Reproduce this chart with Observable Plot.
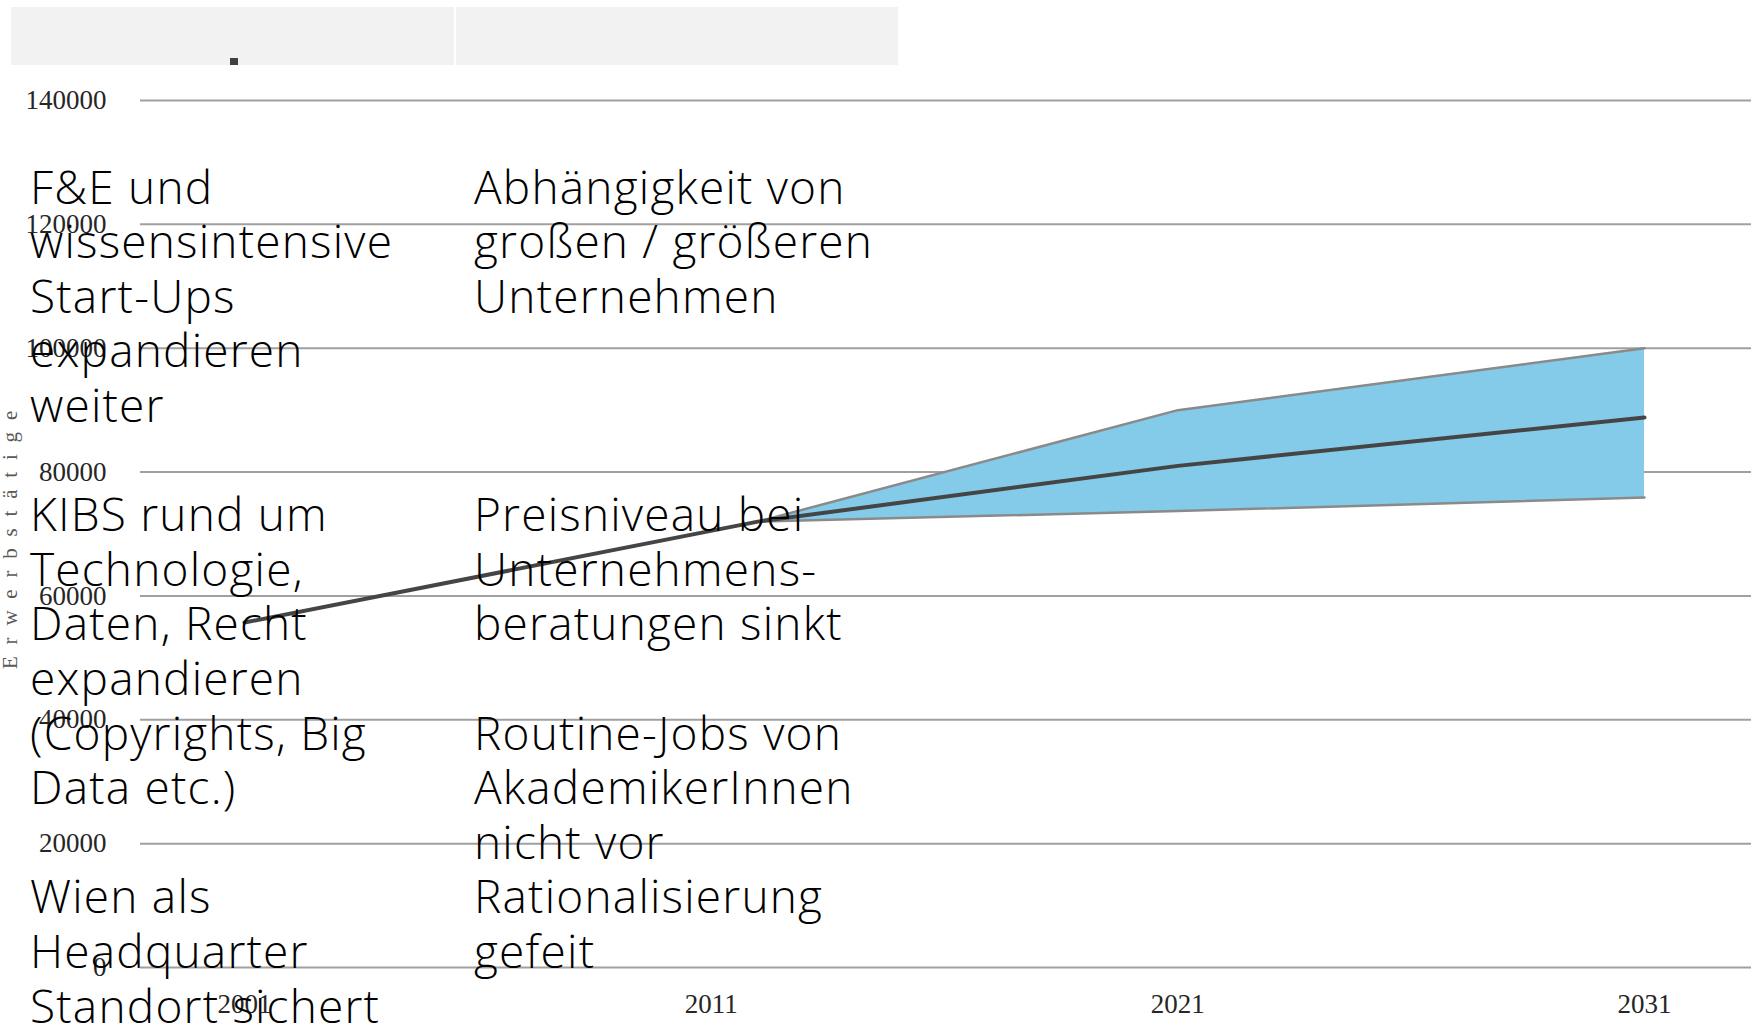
<!DOCTYPE html>
<html>
<head>
<meta charset="utf-8">
<script src="https://cdn.jsdelivr.net/npm/d3@7"></script>
<script src="https://cdn.jsdelivr.net/npm/@observablehq/plot@0.6"></script>
<style>
  html, body { margin: 0; padding: 0; background: #fff; }
  #wrap { position: relative; width: 1758px; height: 1031px; overflow: hidden; }
  #chart { position: absolute; left: 0; top: 0; }
  .hdr { position: absolute; top: 7px; height: 58px; background: #f2f2f2; }
  #overlay { position: absolute; left: 0; top: 0; pointer-events: none; }
</style>
</head>
<body>
<div id="wrap">
  <div class="hdr" style="left:11px;width:443px;"></div>
  <div class="hdr" style="left:456px;width:442px;"></div>
  <div style="position:absolute;left:230px;top:58px;width:8px;height:7px;background:#404040;"></div>
  <div id="chart"></div>
  <svg id="overlay" width="1758" height="1031"></svg>
</div>
<script>
// ---- data ----
const xTicks = [2001, 2011, 2021, 2031];
const yTicks = [0, 20000, 40000, 60000, 80000, 100000, 120000, 140000];

const centralYears = [2001, 2012, 2021, 2031];
const centralValues = [55700, 72000, 81000, 88800];

const fanYears = [2012, 2021, 2031];
const upperValues = [72000, 90000, 100000];
const lowerValues = [72000, 73700, 75900];

const yTitle = "Erwerbstätige";

const leftLines = [
  "F&E und", "wissensintensive", "Start-Ups", "expandieren", "weiter", "",
  "KIBS rund um", "Technologie,", "Daten, Recht", "expandieren", "(Copyrights, Big", "Data etc.)", "",
  "Wien als", "Headquarter", "Standort sichert"
];
const rightLines = [
  "Abhängigkeit von", "großen / größeren", "Unternehmen", "", "", "",
  "Preisniveau bei", "Unternehmens-", "beratungen sinkt", "",
  "Routine-Jobs von", "AkademikerInnen", "nicht vor", "Rationalisierung", "gefeit"
];

// ---- tables ----
const central = centralYears.map((x, i) => ({x, y: centralValues[i]}));
const fan = fanYears.map((x, i) => ({x, lo: lowerValues[i], hi: upperValues[i]}));

const chart = Plot.plot({
  width: 1758,
  height: 1031,
  marginTop: 100,
  marginBottom: 64,
  marginLeft: 140,
  marginRight: 7,
  style: {fontFamily: "'Liberation Serif', serif", fontSize: "27px", color: "#262626", background: "transparent"},
  x: {domain: [2001, 2031], range: [244, 1644], ticks: xTicks, tickFormat: d => String(d), tickSize: 0, tickPadding: 26, label: null},
  y: {domain: [0, 140000], ticks: yTicks, tickFormat: d => String(d), tickSize: 0, tickPadding: 34, label: null},
  marks: [
    Plot.ruleY(yTicks, {stroke: "#a0a0a0", strokeWidth: 2}),
    Plot.areaY(fan, {x: "x", y1: "lo", y2: "hi", fill: "#84cbe9"}),
    Plot.line(fan, {x: "x", y: "hi", stroke: "#8a8a8a", strokeWidth: 2.5}),
    Plot.line(fan, {x: "x", y: "lo", stroke: "#8a8a8a", strokeWidth: 2.5}),
    Plot.line(central, {x: "x", y: "y", stroke: "#454545", strokeWidth: 4})
  ]
});
document.getElementById("chart").appendChild(chart);

// ---- text overlay ----
const svg = d3.select("#overlay");
svg.append("text")
  .attr("transform", "translate(17,534) rotate(-90)")
  .attr("text-anchor", "middle")
  .attr("font-family", "'Liberation Serif', serif")
  .attr("font-size", 21)
  .attr("letter-spacing", 11.8)
  .attr("fill", "#595959")
  .text(yTitle);

function column(lines, x) {
  svg.append("g")
    .attr("font-family", "'Open Sans', sans-serif")
    .attr("font-weight", 300)
    .attr("font-size", 46)
    .attr("letter-spacing", 1.2)
    .attr("fill", "#000")
    .selectAll("text")
    .data(lines)
    .join("text")
    .attr("x", x)
    .attr("y", (d, i) => 203.5 + i * 54.6)
    .text(d => d);
}
column(leftLines, 30);
column(rightLines, 474);
</script>
</body>
</html>
